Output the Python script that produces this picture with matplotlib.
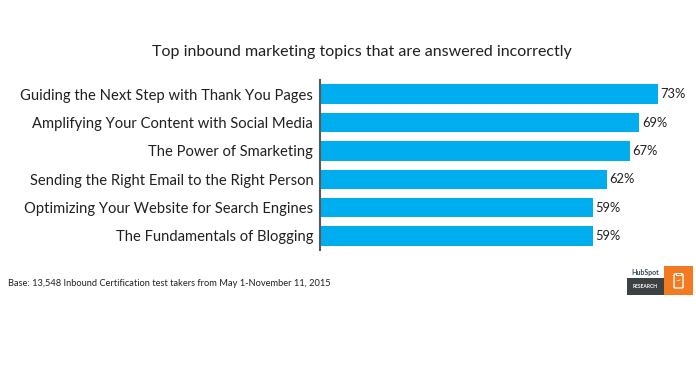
import matplotlib.pyplot as plt
from matplotlib.patches import FancyBboxPatch, Rectangle

W, H = 696, 390

topics = [
    "Guiding the Next Step with Thank You Pages",
    "Amplifying Your Content with Social Media",
    "The Power of Smarketing",
    "Sending the Right Email to the Right Person",
    "Optimizing Your Website for Search Engines",
    "The Fundamentals of Blogging",
]
percents = [73, 69, 67, 62, 59, 59]

BAR_COLOR = "#00aeef"
TEXT_COLOR = "#231f20"
ORANGE = "#f37a21"

plt.rcParams["font.family"] = ["Lato", "DejaVu Sans"]

fig = plt.figure(figsize=(W / 100, H / 100), dpi=100, facecolor="white")

# axes area in pixels: x from 319.5 to 680, y from 80 to 250
ax = fig.add_axes([319.5 / W, 1 - 250 / H, (680 - 319.5) / W, 170 / H])
y_pos = list(range(len(topics)))
ax.barh(y_pos, percents, height=0.69, color=BAR_COLOR)
ax.set_xlim(0, 360.5 / 4.637)
ax.set_ylim(5.494, -0.503)
ax.set_yticks(y_pos)
ax.set_yticklabels(topics, fontsize=10.65, color=TEXT_COLOR)
ax.tick_params(axis="y", length=0, pad=4.5)
ax.set_xticks([])

for spine in ax.spines.values():
    spine.set_visible(False)
ax.spines["left"].set_visible(True)
ax.spines["left"].set_color("#58595b")
ax.spines["left"].set_linewidth(1.5)

for y, value in zip(y_pos, percents):
    ax.text(value + 0.5, y, f"{value}%", va="center", ha="left", fontsize=9.3,
            color=TEXT_COLOR, clip_on=False)

fig.text(361.5 / W, 1 - 52 / H, "Top inbound marketing topics that are answered incorrectly",
         ha="center", va="center", fontsize=11.5, color=TEXT_COLOR)
fig.text(8 / W, 1 - 283 / H, "Base: 13,548 Inbound Certification test takers from May 1-November 11, 2015",
         ha="left", va="center", fontsize=6.7, color=TEXT_COLOR)

# HubSpot Research badge, bottom right
overlay = fig.add_axes([0, 0, 1, 1], facecolor="none")
overlay.set_xlim(0, W)
overlay.set_ylim(H, 0)
overlay.axis("off")
overlay.add_patch(Rectangle((627, 278), 37, 17, color="#3d4144", lw=0))
overlay.add_patch(Rectangle((664, 266), 29, 29, color=ORANGE, lw=0))
overlay.add_patch(FancyBboxPatch((674, 274), 9, 14, boxstyle="round,pad=0,rounding_size=1",
                                 fc="none", ec="white", lw=1))
overlay.add_patch(Rectangle((676, 272.5), 5, 2.5, fc=ORANGE, ec="white", lw=0.7))
overlay.text(678.5, 281, "~", ha="center", va="center", fontsize=6, color="white", fontweight="bold")
overlay.text(645.5, 272, "HubSpot", ha="center", va="center", fontsize=5, color="#33475b", fontweight="bold")
overlay.text(645.5, 286.5, "RESEARCH", ha="center", va="center", fontsize=3.6, color="white", fontweight="bold")

fig.savefig("out.png", dpi=100)
